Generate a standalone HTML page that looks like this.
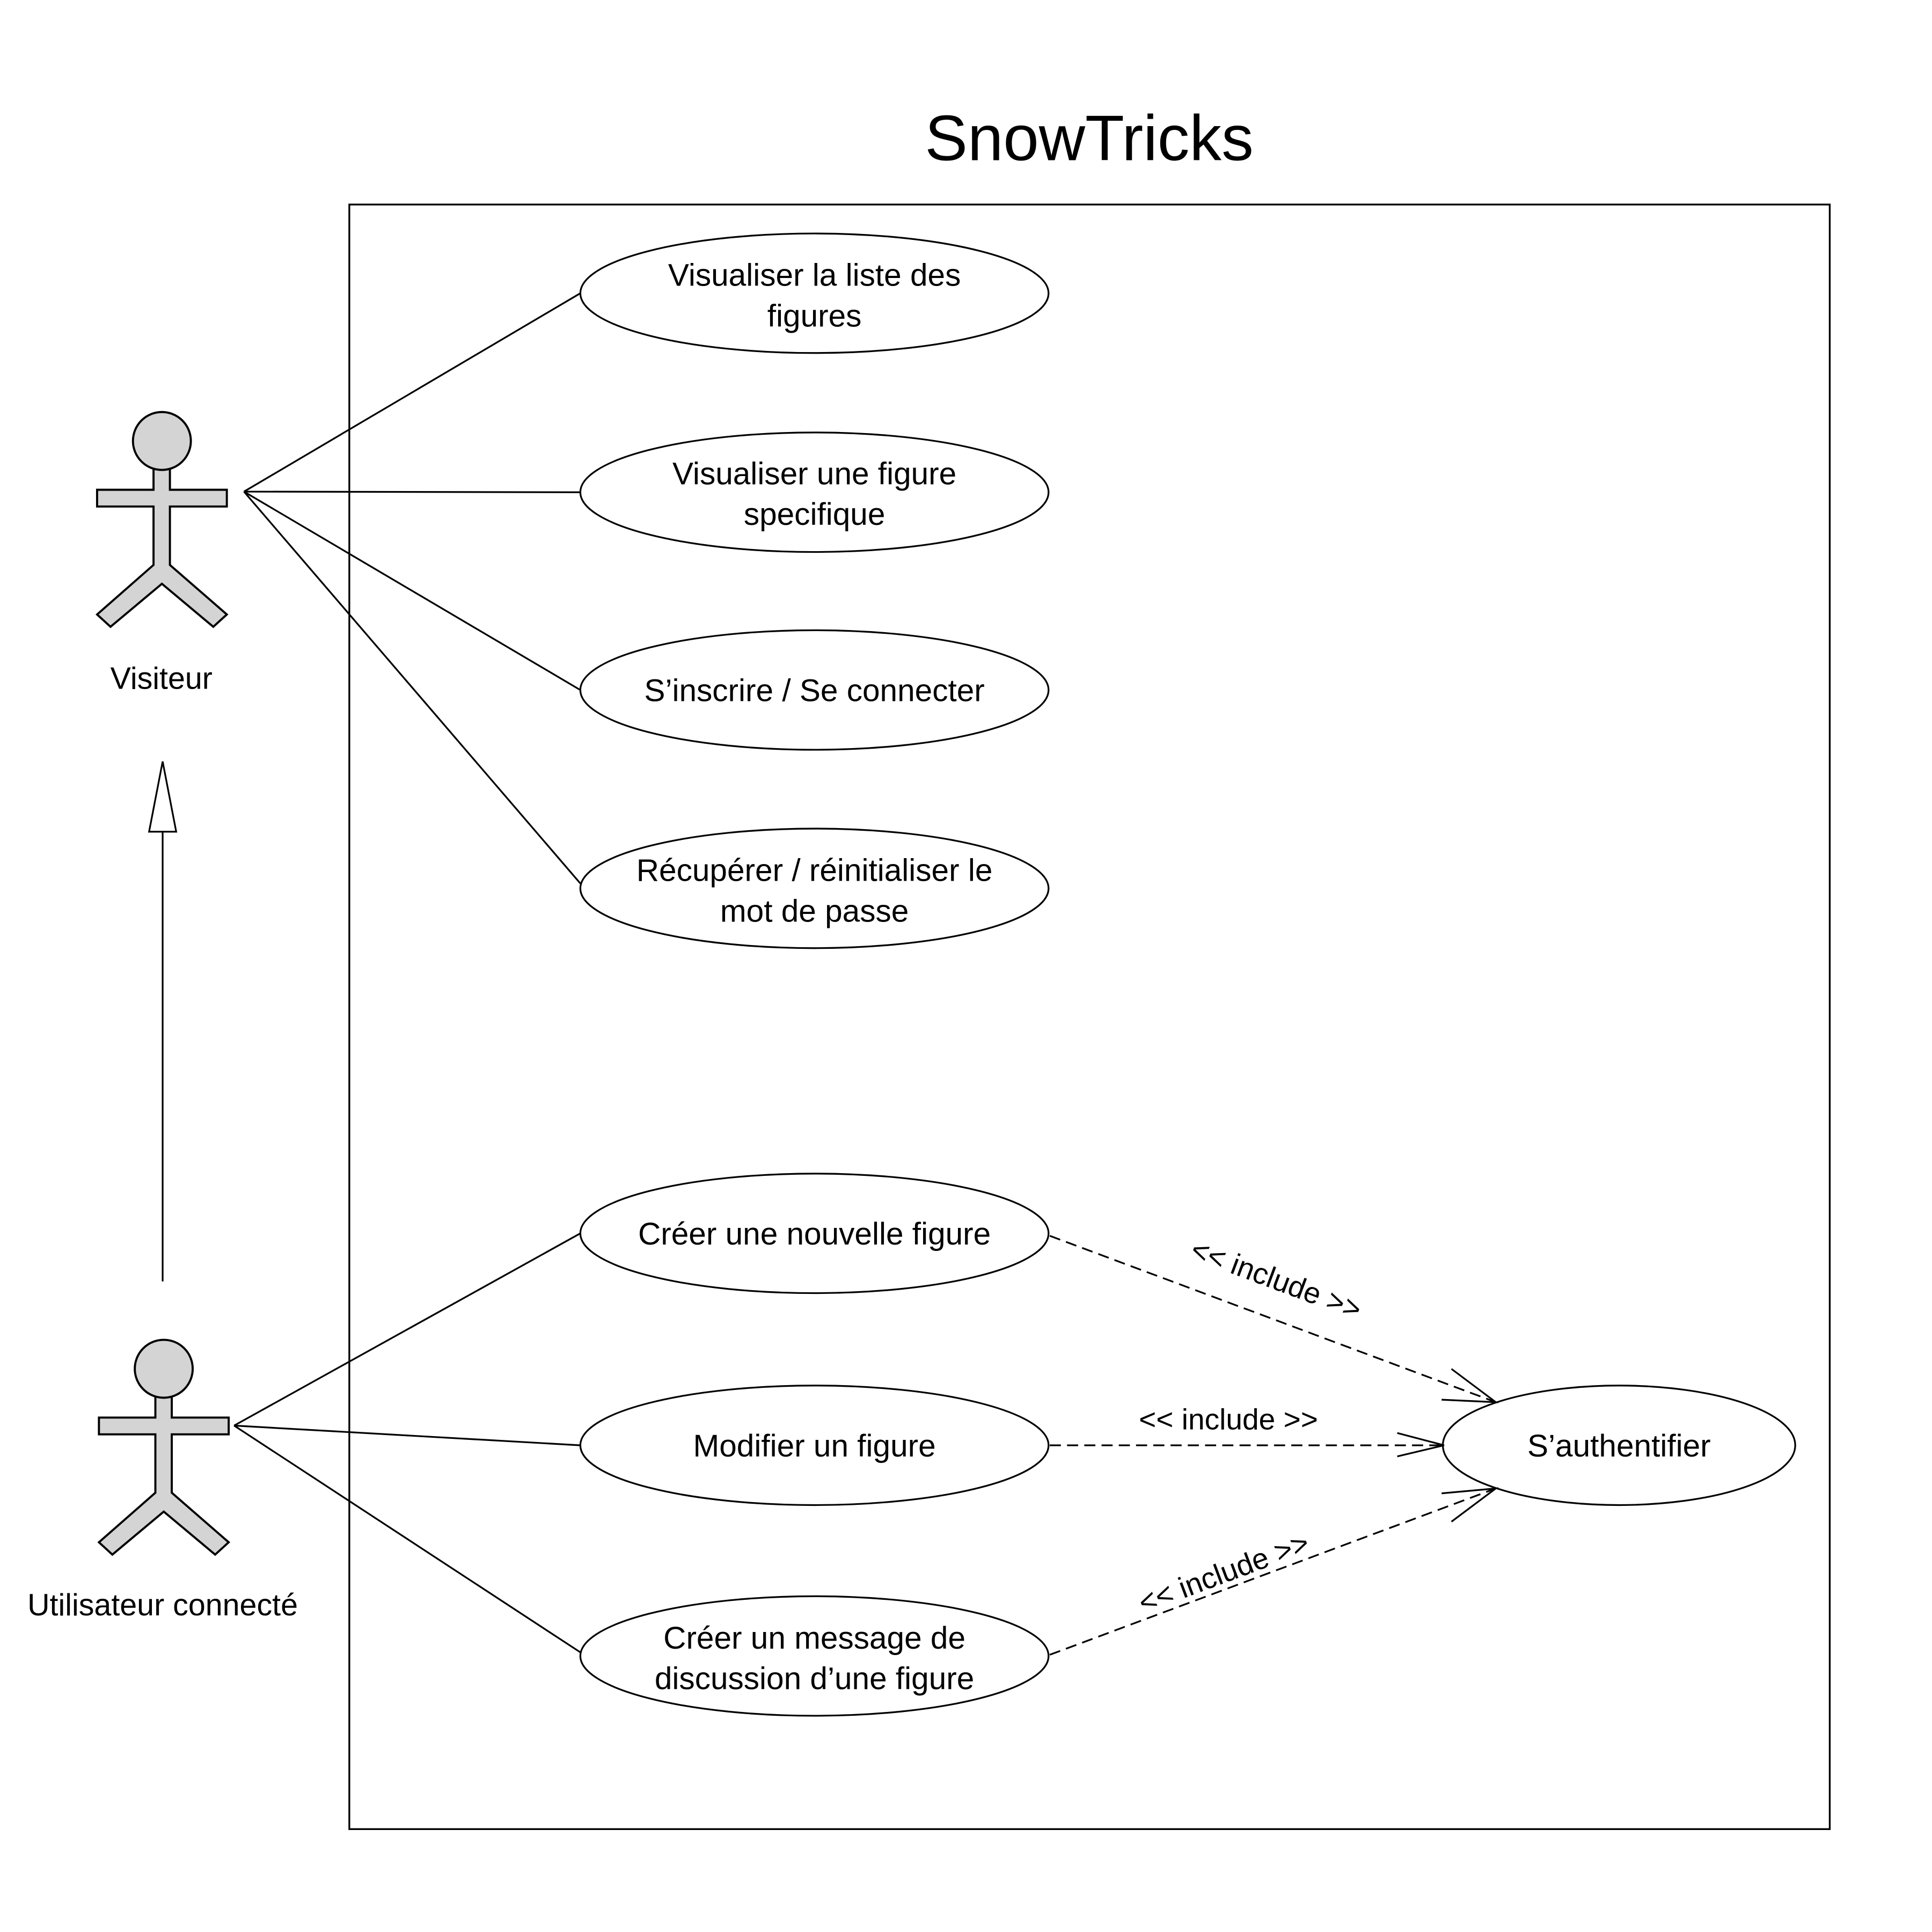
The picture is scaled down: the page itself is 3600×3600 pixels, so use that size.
<!DOCTYPE html>
<html><head><meta charset="utf-8"><style>
html,body{margin:0;padding:0;background:#fff}
svg{display:block}
text{font-family:"Liberation Sans",Arial,sans-serif;fill:#000}
</style></head><body>
<svg width="3600" height="3600" viewBox="0 0 1568 1568" xmlns="http://www.w3.org/2000/svg">
<rect width="1568" height="1568" fill="#fff"/>
<text x="884" y="130" font-size="52" text-anchor="middle">SnowTricks</text>
<rect x="283.5" y="166" width="1201.5" height="1318.5" fill="none" stroke="#000" stroke-width="1.45"/>

<defs>
<g id="actor" fill="#d4d4d4" stroke="#000" stroke-width="1.7" stroke-linejoin="miter">
<polygon points="124.6,380 124.6,397.5 78.8,397.5 78.8,411.1 124.6,411.1 124.6,458.5 78.8,498.7 89.7,508.7 131.4,473.8 173.1,508.7 184.1,498.7 137.9,458.5 137.9,411.1 184.1,411.1 184.1,397.5 137.9,397.5 137.9,380"/>
<circle cx="131.4" cy="357.9" r="23.5"/>
</g>
</defs>
<use href="#actor"/>
<use href="#actor" transform="translate(1.5,753)"/>
<text x="131" y="559" font-size="25" text-anchor="middle">Visiteur</text>
<text x="132" y="1311" font-size="25" text-anchor="middle">Utilisateur connecté</text>

<line x1="132" y1="1040" x2="132" y2="675" stroke="#000" stroke-width="1.4"/>
<polygon points="132,618 121,675 143,675" fill="#fff" stroke="#000" stroke-width="1.4"/>

<g stroke="#000" stroke-width="1.4" fill="none">
<line x1="198" y1="399" x2="471" y2="238"/>
<line x1="198" y1="399" x2="471" y2="399.5"/>
<line x1="198" y1="399" x2="471" y2="560"/>
<line x1="198" y1="399" x2="471" y2="717"/>
<line x1="190" y1="1157" x2="471" y2="1001"/>
<line x1="190" y1="1157" x2="471" y2="1173"/>
<line x1="190" y1="1157" x2="471" y2="1341"/>
</g>

<g fill="#fff" stroke="#000" stroke-width="1.4">
<ellipse cx="661" cy="238" rx="190" ry="48.5"/>
<ellipse cx="661" cy="399.5" rx="190" ry="48.5"/>
<ellipse cx="661" cy="560" rx="190" ry="48.5"/>
<ellipse cx="661" cy="721" rx="190" ry="48.5"/>
<ellipse cx="661" cy="1001" rx="190" ry="48.5"/>
<ellipse cx="661" cy="1173" rx="190" ry="48.5"/>
<ellipse cx="661" cy="1344" rx="190" ry="48.5"/>
<ellipse cx="1314" cy="1173" rx="143" ry="48.5"/>
</g>

<g font-size="25.5" text-anchor="middle">
<text x="661" y="232">Visualiser la liste des</text>
<text x="661" y="265">figures</text>
<text x="661" y="393">Visualiser une figure</text>
<text x="661" y="426">specifique</text>
<text x="661" y="569">S’inscrire / Se connecter</text>
<text x="661" y="715">Récupérer / réinitialiser le</text>
<text x="661" y="748">mot de passe</text>
<text x="661" y="1010">Créer une nouvelle figure</text>
<text x="661" y="1182">Modifier un figure</text>
<text x="661" y="1338">Créer un message de</text>
<text x="661" y="1371">discussion d’une figure</text>
<text x="1314" y="1182">S’authentifier</text>
</g>

<g stroke="#000" stroke-width="1.4" fill="none">
<line x1="852" y1="1003" x2="1214" y2="1138" stroke-dasharray="9,5"/>
<polyline points="1178,1111 1214,1138 1170,1136"/>
<line x1="852" y1="1173" x2="1172" y2="1173" stroke-dasharray="9,5"/>
<polyline points="1134,1163 1172,1173 1134,1182"/>
<line x1="852" y1="1343" x2="1214" y2="1208" stroke-dasharray="9,5"/>
<polyline points="1170,1212 1214,1208 1178,1235"/>
</g>
<g font-size="24" text-anchor="middle">
<text transform="translate(1033,1046) rotate(20.5)">&lt;&lt; include &gt;&gt;</text>
<text x="997" y="1160">&lt;&lt; include &gt;&gt;</text>
<text transform="translate(996,1284) rotate(-20.5)">&lt;&lt; include &gt;&gt;</text>
</g>
</svg>
</body></html>
